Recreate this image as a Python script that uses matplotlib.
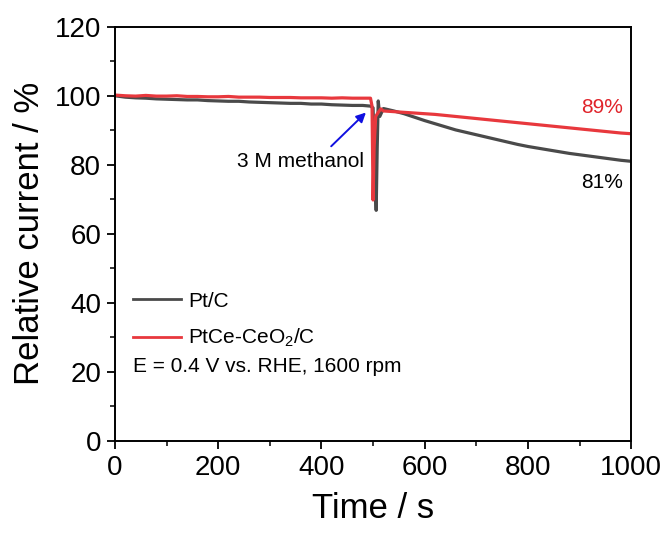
import matplotlib.pyplot as plt

plt.rcParams['font.family'] = ['Liberation Sans', 'DejaVu Sans']
plt.rcParams['mathtext.fontset'] = 'custom'
plt.rcParams['mathtext.rm'] = 'Liberation Sans'
plt.rcParams['mathtext.default'] = 'regular'

# chronoamperometry, methanol added at ~500 s
t_ptc = [0, 20, 40, 60, 80, 100, 120, 140, 160, 180, 200, 220, 240, 260, 280, 300,
         320, 340, 360, 380, 400, 420, 440, 460, 480, 495, 500, 503, 506, 508, 510,
         513, 520, 540, 560, 580, 600, 620, 640, 660, 680, 700, 720, 740, 760, 780,
         800, 820, 840, 860, 880, 900, 920, 940, 960, 980, 1000]
i_ptc = [100.0, 99.6, 99.4, 99.3, 99.1, 99.0, 98.9, 98.8, 98.8, 98.6, 98.5, 98.4, 98.4,
         98.2, 98.1, 98.0, 97.9, 97.8, 97.8, 97.6, 97.6, 97.4, 97.3, 97.2, 97.2, 97.0,
         96.5, 80.0, 66.8, 85.0, 98.5, 94.0, 96.3, 95.6, 94.8, 93.8, 92.8, 91.9, 91.0,
         90.1, 89.4, 88.7, 88.0, 87.3, 86.6, 85.9, 85.3, 84.8, 84.3, 83.8, 83.3, 82.9,
         82.5, 82.1, 81.7, 81.3, 81.0]

t_ptce = [0, 20, 40, 60, 80, 100, 120, 140, 160, 180, 200, 220, 240, 260, 280, 300,
          320, 340, 360, 380, 400, 420, 440, 460, 480, 495, 498, 500, 502, 505, 510,
          515, 520, 540, 560, 580, 600, 620, 640, 660, 680, 700, 720, 740, 760, 780,
          800, 820, 840, 860, 880, 900, 920, 940, 960, 980, 1000]
i_ptce = [100.2, 100.0, 99.9, 100.1, 99.9, 99.9, 100.0, 99.8, 99.8, 99.7, 99.7, 99.8,
          99.6, 99.6, 99.6, 99.5, 99.5, 99.5, 99.4, 99.4, 99.4, 99.3, 99.4, 99.3, 99.3,
          99.3, 97.0, 69.8, 85.0, 94.0, 95.2, 96.2, 95.6, 95.4, 95.2, 95.0, 94.8, 94.6,
          94.3, 94.0, 93.7, 93.4, 93.1, 92.8, 92.5, 92.2, 91.9, 91.6, 91.3, 91.0, 90.7,
          90.4, 90.1, 89.8, 89.5, 89.2, 89.0]

gray = '#4a4a4a'
red = '#e8383d'

fig = plt.figure(figsize=(6.68, 5.35), dpi=100)
ax = fig.add_axes([0.172, 0.176, 0.773, 0.774])

ax.plot(t_ptc, i_ptc, color=gray, lw=2.3, label='Pt/C')
ax.plot(t_ptce, i_ptce, color=red, lw=2.3, label='PtCe-CeO$_2$/C')

ax.set_xlim(0, 1000)
ax.set_ylim(0, 120)
ax.set_xticks(range(0, 1001, 200))
ax.set_xticks(range(100, 1000, 200), minor=True)
ax.set_yticks(range(0, 121, 20))
ax.set_yticks(range(10, 120, 20), minor=True)
ax.tick_params(which='major', direction='out', length=6, width=1.3, labelsize=20, pad=4)
ax.tick_params(which='minor', direction='out', length=3.5, width=1.1)
for s in ax.spines.values():
    s.set_linewidth(1.4)

ax.set_xlabel('Time / s', fontsize=25, labelpad=8)
ax.set_ylabel('Relative current / %', fontsize=25, labelpad=6)

ax.annotate('', xy=(490, 95.7), xytext=(415, 84.8),
            arrowprops=dict(arrowstyle='-|>', color='#1010e0', lw=1.4, mutation_scale=14))
ax.text(482, 81.0, '3 M methanol', fontsize=15, ha='right', va='center')

ax.text(984, 96.5, f'{i_ptce[-1]:.0f}%', color='#e0232a', fontsize=15, ha='right', va='center')
ax.text(984, 75.0, f'{i_ptc[-1]:.0f}%', color='black', fontsize=15, ha='right', va='center')

leg = ax.legend(loc='upper left', bbox_to_anchor=(0.035, 0.36), frameon=False, fontsize=15,
                handlelength=2.3, handletextpad=0.35, labelspacing=0.78,
                borderpad=0, borderaxespad=0)
for h in leg.get_lines():
    h.set_linewidth(2.0)
ax.text(35, 21.6, 'E = 0.4 V vs. RHE, 1600 rpm', fontsize=15, va='center')

fig.savefig('out.png', dpi=100)
